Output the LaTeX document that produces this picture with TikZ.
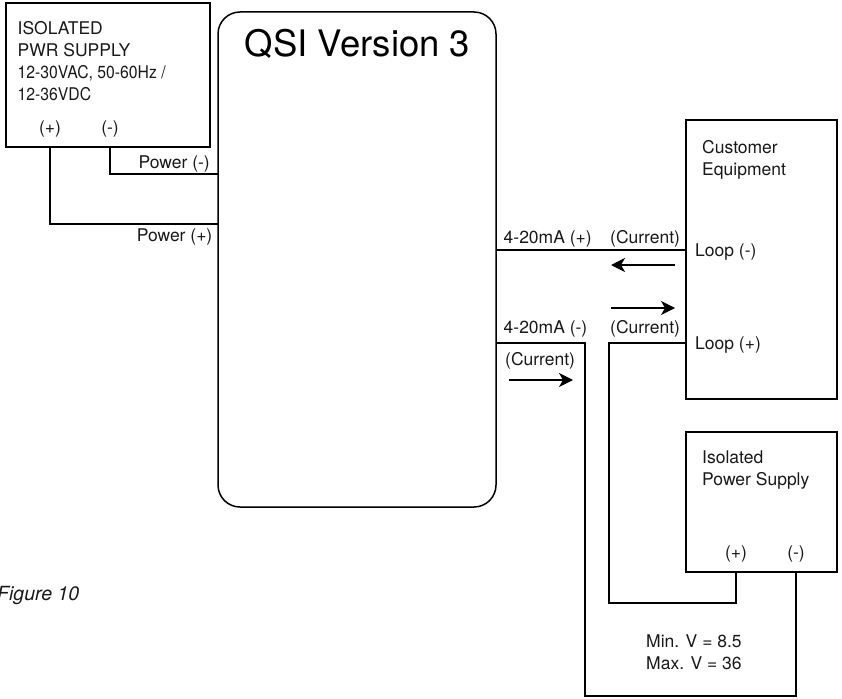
\documentclass[tikz,border=0pt]{standalone}
\usepackage{fontspec}
\setmainfont{TeX Gyre Heros}
\usetikzlibrary{arrows.meta}
\tikzset{
  x=1pt,y=-1pt,
  boxst/.style={draw=black,line width=1.5pt,rectangle,outer sep=0pt,inner sep=0pt},
  wire/.style={draw=black,line width=1.5pt,line join=miter},
  flow/.style={draw=black,line width=1.4pt,-{Stealth[length=14pt,width=14pt,inset=4pt]}},
  lbl/.style={inner sep=0pt,anchor=base west,font=\fontsize{17.5}{20}\selectfont,text=black!90},
  lblc/.style={lbl,anchor=base,align=center}
}
\newcommand{\cnd}[1]{\scalebox{0.9}[1]{#1}}
\begin{document}
\begin{tikzpicture}
\useasboundingbox (0,0) rectangle (842,698);
\node[boxst,minimum width=204pt,minimum height=144pt] (pwr) at (108,75) {};
\node[boxst,minimum width=278pt,minimum height=495pt,rounded corners=22pt] (qsi) at (357,259.5) {};
\node[boxst,minimum width=151pt,minimum height=279pt] (cust) at (761.5,259.5) {};
\node[boxst,minimum width=151pt,minimum height=140pt] (iso) at (761.5,502) {};
% terminals
\coordinate (pp) at (50,147);
\coordinate (pm) at (110,147);
\coordinate (qp) at (218,224);
\coordinate (qm) at (218,174);
\coordinate (q420p) at (496,250);
\coordinate (c420p) at (686,250);
\coordinate (q420m) at (496,343);
\coordinate (cloop) at (686,343);
\coordinate (isop) at (736,572);
\coordinate (isom) at (796,572);
\coordinate (a1s) at (675,265);\coordinate (a1e) at (611,265);
\coordinate (a2s) at (611,308);\coordinate (a2e) at (675,308);
\coordinate (a3s) at (509,380);\coordinate (a3e) at (573,380);
% connectors
\draw[wire] (pp) |- (qp);
\draw[wire] (pm) |- (qm);
\draw[wire] (q420p) -- (c420p);
\draw[wire] (q420m) -- (585,343) -- (585,696) -- (796,696) -- (isom);
\draw[wire] (cloop) -- (609,343) -- (609,603) -- (736,603) -- (isop);
\draw[flow] (a1s) -- (a1e);
\draw[flow] (a2s) -- (a2e);
\draw[flow] (a3s) -- (a3e);
% texts
\node[lbl] (t1) at (17.5,35) {ISOLATED};
\node[lbl] (t2) at (17.5,57) {PWR SUPPLY};
\node[lbl] (t3) at (17.5,78.5) {\cnd{12-30VAC, 50-60Hz /}};
\node[lbl] (t4) at (17.5,100) {\cnd{12-36VDC}};
\node[lblc] (t5) at (50,133) {(+)};
\node[lblc] (t6) at (110,133) {(-)};
\node[lbl,anchor=base east] (t7) at (210,168) {Power (-)};
\node[lbl,anchor=base east] (t8) at (212.5,241) {Power (+)};
\node[inner sep=0pt,anchor=base,font=\fontsize{36.5}{40}\selectfont] (t9) at (357.5,57) {QSI Version 3};
\node[lbl] (t10) at (503.5,243) {4-20mA (+)};
\node[lbl] (t11) at (610,243) {(Current)};
\node[lbl] (t12) at (503.5,333) {4-20mA (-)};
\node[lbl] (t13) at (610,333) {(Current)};
\node[lbl] (t14) at (505,365) {(Current)};
\node[lbl] (t15) at (695,256) {Loop (-)};
\node[lbl] (t16) at (695,349) {Loop (+)};
\node[lbl] (t17) at (702,153) {Customer};
\node[lbl] (t18) at (702,175) {Equipment};
\node[lbl] (t19) at (702,463) {Isolated};
\node[lbl] (t20) at (702,485) {Power Supply};
\node[lblc] (t21) at (736,558) {(+)};
\node[lblc] (t22) at (796,558) {(-)};
\node[lbl] (t23) at (646,647) {Min. V = 8.5};
\node[lbl] (t24) at (646,669) {Max. V = 36};
\node[lbl,font=\fontsize{19.5}{22}\selectfont\itshape] (t25) at (-3,600) {Figure 10};
\end{tikzpicture}
\end{document}
